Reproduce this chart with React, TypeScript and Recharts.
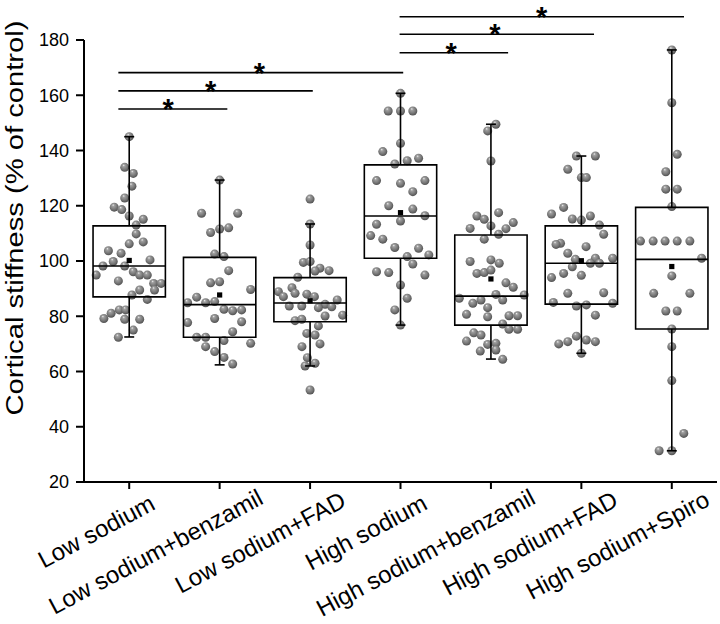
import React from 'react';
import {
  ScatterChart,
  Scatter,
  XAxis,
  YAxis,
  ReferenceArea,
  ReferenceLine,
  ReferenceDot,
} from 'recharts';

// Box plot of cortical stiffness per treatment group,
// with individual measurements, means and significance bars.

const categories = [
  'Low sodium',
  'Low sodium+benzamil',
  'Low sodium+FAD',
  'High sodium',
  'High sodium+benzamil',
  'High sodium+FAD',
  'High sodium+Spiro',
];

const whiskerLow = [72.5, 62.4, 62, 76.8, 64.5, 66.6, 31.3];
const quartile1 = [87, 72.4, 78, 101, 76.8, 84.4, 75.4];
const medians = [98.2, 84.2, 84.8, 116.3, 87.3, 99.2, 100.6];
const quartile3 = [112.7, 101.3, 94, 134.8, 109.4, 112.7, 119.4];
const whiskerHigh = [145, 129.3, 113.4, 160.7, 149.5, 138, 176.4];
const means = [100.2, 87.7, 85.6, 117.5, 93.5, 100.1, 98];

const yTicks = [20, 40, 60, 80, 100, 120, 140, 160, 180];

// each point: [offset from group centre (fraction of category width), value]
const lowSodium = [
  [0, 145], [-0.05, 133.9], [0.045, 131.7], [0.03, 127.1], [-0.05, 122.8], [-0.166, 119.5],
  [-0.083, 118.6], [0, 116.3], [0.155, 115.1], [0.077, 113], [0.077, 109.8], [0.155, 106.9],
  [0, 106.2], [-0.23, 103.7], [-0.09, 102.8], [0.23, 100.4], [-0.177, 99.8], [-0.29, 98.2],
  [-0.05, 98.2], [0.045, 96.1], [-0.365, 94.9], [0.116, 94.9], [0.2, 94.9], [-0.12, 92.8],
  [0.27, 91.9], [0.354, 91.9], [0.116, 89.5], [0.28, 89.5], [0.03, 87.7], [0.2, 86.1],
  [-0.28, 79.2], [-0.2, 81.1], [-0.11, 82.3], [-0.04, 82.3], [-0.05, 78.9], [0.116, 78.9],
  [0.045, 75], [-0.12, 72.4],
];
const lowBenzamil = [
  [0, 129.3], [-0.2, 117.3], [0.2, 117.3], [0, 111.6], [0.1, 112], [-0.1, 110.3],
  [-0.055, 102.5], [0.048, 101.6], [0.1, 96.5], [-0.1, 92.1], [0, 92.5], [0.343, 89.7],
  [-0.254, 86.9], [-0.354, 84.9], [-0.155, 84.9], [-0.055, 85.3], [0.048, 82.5], [0.144, 82],
  [0.243, 82.3], [-0.055, 79.2], [0.243, 78], [-0.354, 77.7], [0.144, 74.4], [-0.254, 72.4],
  [-0.155, 72.4], [0.048, 71.2], [0.343, 70.2], [-0.155, 69], [-0.055, 67.2], [0.048, 65.1],
  [0.144, 62.7],
];
const lowFad = [
  [0, 122.4], [0, 113.4], [0, 105.8], [-0.074, 99.5], [0, 99.8], [0.11, 97.4],
  [0.21, 96.5], [0.055, 96.4], [-0.136, 94.1], [-0.2, 90.3], [-0.35, 88.9], [-0.295, 87.1],
  [-0.166, 88.3], [-0.036, 88], [0.048, 87.1], [0.3, 85.9], [0.166, 84.3], [-0.23, 83.7],
  [-0.092, 83.7], [0.092, 83.1], [0.24, 83.4], [0.36, 80.4], [0.166, 80.1], [-0.166, 78.4],
  [-0.092, 78.9], [0.092, 76.5], [-0.036, 73.8], [0.055, 73.2], [-0.09, 69], [0.11, 70],
  [-0.03, 65], [0.055, 63], [-0.055, 62], [0, 53.3],
];
const highSodium = [
  [0, 160.7], [-0.136, 154.3], [0, 154.3], [0.136, 154.3], [0, 142.6], [-0.196, 139.6],
  [0.2, 137.2], [0.074, 136.3], [-0.063, 135.1], [-0.265, 129.1], [0, 128.1], [0.27, 129.1],
  [0.136, 125.1], [-0.13, 120], [0.136, 118.8], [0, 114.5], [0.27, 116.4], [-0.265, 113.3],
  [-0.33, 109.2], [-0.196, 107.9], [-0.063, 104.9], [0.2, 104.6], [0.074, 101.6], [0.313, 102.2],
  [0.136, 98.9], [-0.265, 96.1], [-0.13, 95.8], [0.27, 94.9], [0, 91.3], [0.074, 86.5],
  [-0.063, 82.3], [0, 76.8],
];
const highBenzamil = [
  [0.055, 149.5], [-0.036, 147.1], [0, 136.2], [-0.155, 116.3], [-0.074, 115.1], [0.085, 117.5],
  [-0.23, 111.8], [0, 112.7], [0.166, 111.7], [0.247, 113.9], [0.085, 109.7], [-0.074, 107.9],
  [-0.23, 99.8], [0, 100.4], [0.092, 99.2], [-0.155, 95.5], [-0.074, 95.8], [0, 96.7],
  [0.166, 92.1], [0.247, 90.5], [0.055, 87.9], [0.368, 87.7], [-0.35, 86.5], [-0.11, 85.9],
  [-0.2, 84.7], [0.13, 85.9], [-0.036, 83.1], [-0.27, 80.7], [-0.036, 79.8], [0.2, 80.2],
  [0.295, 80.2], [0.13, 77.2], [0.2, 75.3], [0.295, 75.3], [-0.19, 74], [-0.11, 73.2],
  [-0.27, 71], [-0.036, 69.8], [0.055, 70.2], [0.055, 67.8], [-0.118, 67.4], [0.13, 64.4],
];
const highFad = [
  [-0.055, 138], [0.155, 138], [-0.15, 133.2], [0, 130.2], [0.055, 130.2], [-0.196, 119.4],
  [-0.1, 115.2], [0, 114.8], [0.1, 116.3], [0.2, 113], [0.247, 109.7], [-0.23, 106.4],
  [0.052, 105.2], [-0.15, 102.8], [-0.066, 100.6], [0.155, 101], [0.346, 101], [-0.1, 97.9],
  [0.1, 99.2], [0.2, 99.2], [-0.196, 95.5], [0, 94.8], [-0.15, 88.3], [0.247, 88.5],
  [-0.055, 83.7], [0.055, 84.1], [0.346, 84.7], [0.155, 80.4], [-0.15, 70.8], [-0.055, 72.8],
  [0.055, 71.4], [0.155, 70.8], [0, 66.6], [-0.33, 117], [-0.33, 94], [-0.31, 85],
  [-0.28, 106], [-0.25, 70],
];
const highSpiro = [
  [0, 176.4], [0, 157.3], [0.06, 138.6], [-0.066, 132.3], [-0.066, 126], [0.06, 126],
  [0, 119.7], [-0.346, 107.2], [-0.206, 107.2], [-0.074, 107.2], [0.06, 107.2], [0.2, 107.2],
  [0.33, 101], [0, 94.6], [-0.2, 88.3], [0.2, 88.3], [-0.066, 81.9], [0.06, 81.9],
  [0, 75.4], [0, 69], [0, 56.7], [0.133, 37.6], [-0.14, 31.3], [0, 31.3],
];

const groups = [lowSodium, lowBenzamil, lowFad, highSodium, highBenzamil, highFad, highSpiro];

// significance bars (x in category units, 0..7)
const sigStart = [0.38, 0.38, 0.38, 3.49, 3.49, 3.49];
const sigEnd = [3.53, 2.53, 1.585, 6.635, 5.64, 4.69];
const sigLevel = [168.2, 161.6, 155, 188.4, 182.1, 175.4];
const starPos = [1.94, 1.4, 0.93, 5.06, 4.545, 4.06];

const pointData = groups.flatMap((pts, i) => pts.map(([dx, y]) => ({ x: i + 0.5 + dx, y })));
const meanData = means.map((y, i) => ({ x: i + 0.5, y }));
const xTicks = categories.map((_, i) => i + 0.5);

const BOX_HALF = 0.4;
const CAP_HALF = 0.055;
const LINE_W = 1.6;
const LABEL_SIZE = 24;
const LABEL_ANGLE = -28;

// rough Arial advance widths (per 1000 em) for the tick label characters
const glyphWidth: Record<string, number> = {
  L: 556, o: 556, w: 722, ' ': 278, s: 500, d: 556, i: 222, u: 556, m: 833, '+': 584,
  b: 556, e: 556, n: 556, z: 500, a: 556, l: 222, F: 611, A: 667, D: 722, H: 722,
  g: 556, h: 556, S: 667, p: 556, r: 333,
};
const textWidth = (s: string) =>
  (s.split('').reduce((sum, ch) => sum + (glyphWidth[ch] ?? 556), 0) * LABEL_SIZE) / 1000;

const Sphere = (props: any) => {
  const { cx, cy } = props;
  if (cx == null || cy == null) return null;
  return <circle cx={cx} cy={cy} r={4.5} fill="url(#sphereShade)" />;
};

const MeanMark = (props: any) => {
  const { cx, cy } = props;
  if (cx == null || cy == null) return null;
  return <rect x={cx - 2.6} y={cy - 2.6} width={5.2} height={5.2} fill="#000" />;
};

const CategoryTick = (props: any) => {
  const { x, y, payload } = props;
  const label = categories[Math.round(payload.value - 0.5)];
  const w = textWidth(label);
  const ex = 7 + 0.16 * w;
  const ey = 26 - 0.05 * w;
  return (
    <g transform={`translate(${x},${y})`}>
      <text x={ex} y={ey} textAnchor="end" transform={`rotate(${LABEL_ANGLE}, ${ex}, ${ey})`} fontSize={LABEL_SIZE} fill="#000">
        {label}
      </text>
    </g>
  );
};

export default function App() {
  const boxes = categories.flatMap((c, i) => {
    const cx = i + 0.5;
    return [
      <ReferenceArea key={`box-${c}`} x1={cx - BOX_HALF} x2={cx + BOX_HALF} y1={quartile1[i]} y2={quartile3[i]}
        fill="none" fillOpacity={0} stroke="#000" strokeWidth={LINE_W} ifOverflow="visible" zIndex={650} />,
      <ReferenceLine key={`med-${c}`} segment={[{ x: cx - BOX_HALF, y: medians[i] }, { x: cx + BOX_HALF, y: medians[i] }]}
        stroke="#000" strokeWidth={LINE_W} ifOverflow="visible" zIndex={650} />,
      <ReferenceLine key={`wl-${c}`} segment={[{ x: cx, y: whiskerLow[i] }, { x: cx, y: quartile1[i] }]}
        stroke="#000" strokeWidth={LINE_W} ifOverflow="visible" zIndex={650} />,
      <ReferenceLine key={`wh-${c}`} segment={[{ x: cx, y: quartile3[i] }, { x: cx, y: whiskerHigh[i] }]}
        stroke="#000" strokeWidth={LINE_W} ifOverflow="visible" zIndex={650} />,
      <ReferenceLine key={`cl-${c}`} segment={[{ x: cx - CAP_HALF, y: whiskerLow[i] }, { x: cx + CAP_HALF, y: whiskerLow[i] }]}
        stroke="#000" strokeWidth={LINE_W} ifOverflow="visible" zIndex={650} />,
      <ReferenceLine key={`ch-${c}`} segment={[{ x: cx - CAP_HALF, y: whiskerHigh[i] }, { x: cx + CAP_HALF, y: whiskerHigh[i] }]}
        stroke="#000" strokeWidth={LINE_W} ifOverflow="visible" zIndex={650} />,
    ];
  });

  const sigBars = sigLevel.flatMap((lvl, i) => [
    <ReferenceLine key={`sig-${i}`} segment={[{ x: sigStart[i], y: lvl }, { x: sigEnd[i], y: lvl }]}
      stroke="#000" strokeWidth={LINE_W} ifOverflow="visible" zIndex={650} />,
    <ReferenceDot key={`star-${i}`} x={starPos[i]} y={lvl} r={0} fill="none" stroke="none" ifOverflow="visible" zIndex={660}
      label={{ value: '*', position: 'center', fontSize: 29, fontWeight: 700, fill: '#000' }} />,
  ]);

  return (
    <div style={{ position: 'absolute', left: 0, top: 0, fontFamily: '"Liberation Sans", Arial, sans-serif' }}>
      <ScatterChart width={720} height={624} margin={{ top: 40, right: 3, bottom: 0, left: 0 }}>
        <defs>
          <radialGradient id="sphereShade" cx="0.45" cy="0.42" r="0.6" fx="0.38" fy="0.26">
            <stop offset="0%" stopColor="#f0f0f0" />
            <stop offset="22%" stopColor="#a0a0a0" />
            <stop offset="65%" stopColor="#777777" />
            <stop offset="100%" stopColor="#4e4e4e" />
          </radialGradient>
        </defs>
        <text x={15} y={218} transform="rotate(-90, 15, 218)" textAnchor="middle" dominantBaseline="central"
          fontSize={23} fill="#000" textLength={395} lengthAdjust="spacingAndGlyphs">
          Cortical stiffness (% of control)
        </text>
        <XAxis
          type="number"
          dataKey="x"
          domain={[0, 7]}
          ticks={xTicks}
          interval={0}
          height={142}
          tick={<CategoryTick />}
          tickSize={7}
          tickMargin={0}
          axisLine={{ stroke: '#000', strokeWidth: 2 }}
          tickLine={{ stroke: '#000', strokeWidth: 2 }}
        />
        <YAxis
          type="number"
          dataKey="y"
          domain={[20, 180]}
          ticks={yTicks}
          interval={0}
          width={84}
          tickSize={8}
          tickMargin={7}
          tick={{ fontSize: 18, fill: '#000' }}
          axisLine={{ stroke: '#000', strokeWidth: 2 }}
          tickLine={{ stroke: '#000', strokeWidth: 2 }}
        />
        <Scatter data={pointData} shape={Sphere} isAnimationActive={false} />
        {boxes}
        <Scatter data={meanData} shape={MeanMark} isAnimationActive={false} zIndex={700} />
        {sigBars}
      </ScatterChart>
    </div>
  );
}
